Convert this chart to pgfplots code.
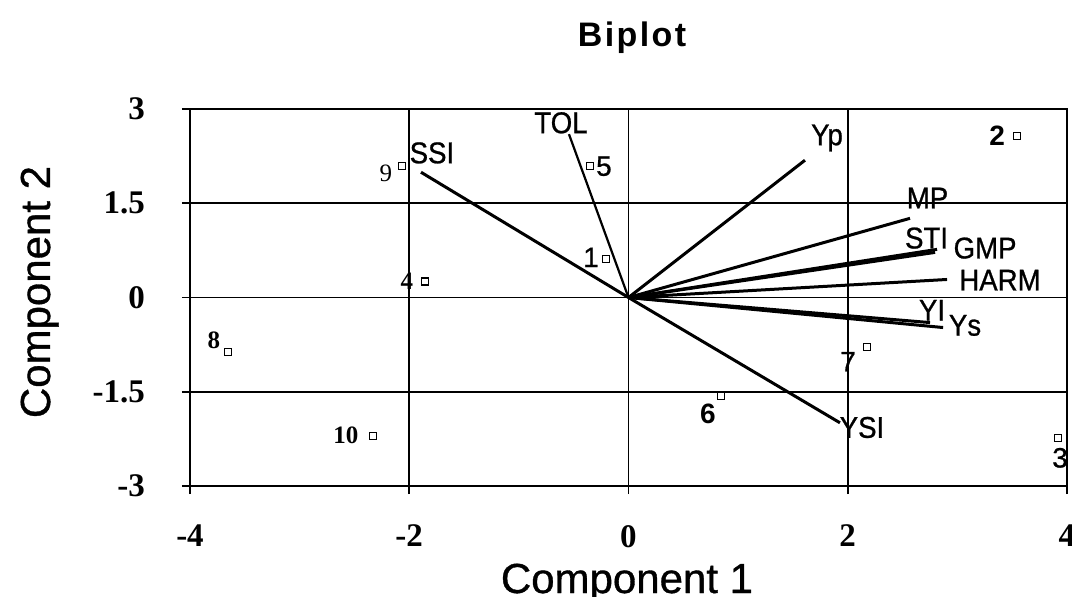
\documentclass[border=0pt]{standalone}
\usepackage{fontspec}
\setmainfont{Liberation Sans}
\newfontfamily\serifb{Liberation Serif}
\newfontfamily\narrow[FakeStretch=0.92,FakeBold=0.8]{Liberation Sans}
\newfontfamily\heavy[FakeBold=0.8]{Liberation Sans}
\newfontfamily\titlefont[LetterSpace=7]{Liberation Sans}
\usepackage{pgfplots}
\pgfplotsset{compat=1.18}
\begin{document}
\begin{tikzpicture}
\begin{axis}[
  scale only axis, width=438.5pt, height=188.5pt,
  xmin=-4, xmax=4, ymin=-3, ymax=3,
  xtick={-4,-2,0,2,4}, ytick={-3,-1.5,0,1.5,3},
  xticklabels={-4,-2,0,2,4}, yticklabels={-3,-1.5,0,1.5,3},
  tick pos=left, tick align=outside, major tick length=4pt,
  grid=major, major grid style={black, line width=0.8pt},
  axis line style={black, line width=0.8pt},
  every tick/.style={black, line width=0.8pt},
  ticklabel style={font=\serifb\bfseries\fontsize{16.5}{18}\selectfont},
  yticklabel style={xshift=-15pt},
  xticklabel style={yshift=-12pt},
  clip=false,
]
% variable vectors
\addplot[black, line width=1.5pt] coordinates {(0,0) (-1.893,1.994)}; % SSI
\addplot[black, line width=1.1pt] coordinates {(0,0) (-0.543,2.600)}; % TOL
\addplot[black, line width=1.5pt] coordinates {(0,0) (1.610,2.185)}; % Yp
\addplot[black, line width=1.5pt] coordinates {(0,0) (2.568,1.260)}; % MP
\addplot[black, line width=1.5pt] coordinates {(0,0) (2.797,0.718)}; % STI
\addplot[black, line width=1.5pt] coordinates {(0,0) (2.815,0.766)}; % GMP
\addplot[black, line width=1.5pt] coordinates {(0,0) (2.906,0.287)}; % HARM
\addplot[black, line width=1.5pt] coordinates {(0,0) (2.751,-0.399)}; % YI
\addplot[black, line width=1.5pt] coordinates {(0,0) (2.870,-0.478)}; % Ys
\addplot[black, line width=1.5pt] coordinates {(0,0) (1.929,-1.994)}; % YSI
% observations
\addplot[only marks, mark=square*, mark size=1.75pt,
  mark options={draw=black, fill=white, line width=0.55pt}] table {
x y
-0.205 0.606
3.545 2.568
3.919 -2.233
-1.857 0.255
-0.351 2.089
0.844 -1.563
2.176 -0.781
-3.654 -0.861
-2.067 2.089
-2.331 -2.201
};
% observation labels
\begin{scope}[every node/.style={inner sep=0pt}]
\node[font=\heavy\fontsize{14}{16}\selectfont] at (axis cs:-0.342,0.638) {1};
\node[font=\bfseries\fontsize{14}{16}\selectfont] at (axis cs:3.362,2.568) {2};
\node[font=\heavy\fontsize{14}{16}\selectfont] at (axis cs:3.937,-2.552) {3};
\node[font=\serifb\bfseries\fontsize{12.5}{14}\selectfont] at (axis cs:-2.021,0.255) {4};
\node[font=\heavy\fontsize{14}{16}\selectfont] at (axis cs:-0.224,2.089) {5};
\node[font=\bfseries\fontsize{14}{16}\selectfont] at (axis cs:0.725,-1.850) {6};
\node[font=\heavy\fontsize{14}{16}\selectfont] at (axis cs:2.003,-1.021) {7};
\node[font=\serifb\bfseries\fontsize{12.5}{14}\selectfont] at (axis cs:-3.782,-0.686) {8};
\node[font=\serifb\fontsize{12.5}{14}\selectfont] at (axis cs:-2.213,1.978) {9};
\node[font=\serifb\bfseries\fontsize{12.5}{14}\selectfont] at (axis cs:-2.577,-2.201) {10};
\end{scope}
% vector labels (baseline anchored)
\begin{scope}[every node/.style={inner sep=0pt, anchor=base, font=\narrow\fontsize{15}{17}\selectfont}]
\node at (axis cs:-1.793,2.137) {SSI};
\node at (axis cs:-0.616,2.616) {TOL};
\node at (axis cs:1.811,2.424) {Yp};
\node at (axis cs:2.728,1.419) {MP};
\node at (axis cs:2.719,0.781) {STI};
\node at (axis cs:3.253,0.622) {GMP};
\node at (axis cs:3.389,0.112) {HARM};
\node at (axis cs:2.769,-0.367) {YI};
\node at (axis cs:3.070,-0.606) {Ys};
\node at (axis cs:2.130,-2.233) {YSI};
\end{scope}
\end{axis}
\node[anchor=base, font=\titlefont\bfseries\fontsize{17}{20}\selectfont] at (221pt,219.5pt) {Biplot};
\node[anchor=base, inner sep=0pt, font=\heavy\fontsize{21}{24}\selectfont] at (218.5pt,-53.5pt) {Component 1};
\node[anchor=base, inner sep=0pt, rotate=90, font=\heavy\fontsize{21}{24}\selectfont] at (-70pt,97pt) {Component 2};
\pgfresetboundingbox
\useasboundingbox (-95pt,-55pt) rectangle (441pt,243pt);
\end{tikzpicture}
\end{document}
